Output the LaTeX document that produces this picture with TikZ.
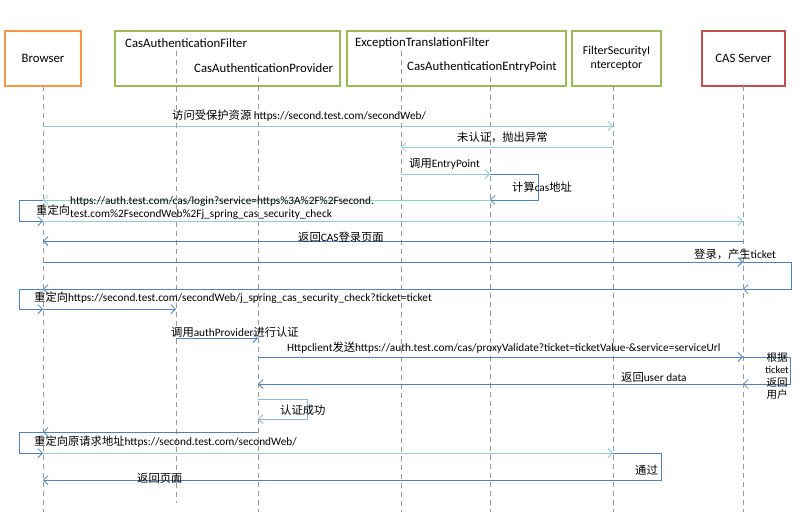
\documentclass[tikz,border=0pt]{standalone}
\usepackage{fontspec}
\setmainfont{Carlito}
\newfontfamily\cjk[Scale=1.0]{Noto Sans CJK SC}
\newcommand\zh[1]{{\cjk #1}}
\usetikzlibrary{arrows.meta}
\definecolor{lb}{HTML}{92CDDC}
\definecolor{db}{HTML}{4F81BD}
\definecolor{mb}{HTML}{95B3D7}
\definecolor{org}{HTML}{F79646}
\definecolor{grn}{HTML}{9BBB59}
\definecolor{rd}{HTML}{C0504D}
\begin{document}
\begin{tikzpicture}[x=1pt,y=-1pt,font=\fontsize{11.3}{13.5}\selectfont,
  lifeline/.style={draw=gray!80,line width=1pt,dash pattern=on 5pt off 4pt},
  actor/.style={line width=1.6pt,fill=white,minimum height=55pt,inner sep=0pt,font=\fontsize{12.8}{14.5}\selectfont},
  hdr/.style={anchor=west,inner sep=0pt,font=\fontsize{12.8}{14.5}\selectfont},
  tip/.style={-{Straight Barb[length=4.5pt,width=9pt]}},
  msgl/.style={draw=lb,line width=0.8pt,tip},
  msgd/.style={draw=db,line width=0.8pt,tip},
  msgm/.style={draw=mb,line width=0.8pt,tip},
  plain/.style={draw=db,line width=0.8pt},
  lbl/.style={anchor=west,inner sep=0pt}]
\useasboundingbox (0,0) rectangle (800,514);
% actor boxes
\node[actor,draw=org,minimum width=76pt] (browser) at (43,58.5) {Browser};
\node[actor,draw=grn,minimum width=225pt] (box1) at (227.5,58.5) {};
\node[actor,draw=grn,minimum width=219pt] (box2) at (456.5,58.5) {};
\node[actor,draw=grn,minimum width=89pt,align=center,font=\fontsize{12}{14}\selectfont] (box3) at (616.5,58.5) {FilterSecurityI\\nterceptor};
\node[actor,draw=rd,minimum width=83pt] (cas) at (743.5,58.5) {CAS Server};
\node[hdr] (t1) at (125,43) {CasAuthenticationFilter};
\node[hdr] (t2) at (194,68) {CasAuthenticationProvider};
\node[hdr] (t3) at (355,43) {ExceptionTranslationFilter};
\node[hdr] (t4) at (407,67) {CasAuthenticationEntryPoint};
% lifeline tops
\coordinate (L1) at (43,86);
\coordinate (L2) at (176,51);
\coordinate (L3) at (258,77);
\coordinate (L4) at (401,51);
\coordinate (L5) at (490,77);
\coordinate (L6) at (613,86);
\coordinate (L7) at (743,86);
\coordinate (bot) at (0,512);
\coordinate (bot2) at (0,503);
\draw[lifeline] (L1) -- (L1 |- bot);
\draw[lifeline] (L2) -- (L2 |- bot2);
\draw[lifeline] (L3) -- (L3 |- bot);
\draw[lifeline] (L4) -- (L4 |- bot);
\draw[lifeline] (L5) -- (L5 |- bot);
\draw[lifeline] (L6) -- (L6 |- bot);
\draw[lifeline] (L7) -- (L7 |- bot);
% message levels
\coordinate (y1) at (0,126);
\coordinate (y2) at (0,147);
\coordinate (y3) at (0,174);
\coordinate (y4) at (0,200);
\coordinate (y5) at (0,221);
\coordinate (y6) at (0,241);
\coordinate (y7) at (0,262);
\coordinate (y8) at (0,289);
\coordinate (y9) at (0,309);
\coordinate (y10) at (0,338);
\coordinate (y11) at (0,357);
\coordinate (y12) at (0,384);
\coordinate (y13) at (0,399);
\coordinate (y14) at (0,419);
\coordinate (y15) at (0,432);
\coordinate (y16) at (0,453);
\coordinate (y17) at (0,480);
% messages
\draw[msgl] (L1 |- y1) -- (L6 |- y1);
\draw[msgl] (L6 |- y2) -- (L4 |- y2);
\draw[msgl] (L4 |- y3) -- (L5 |- y3);
\draw[msgd] (L5 |- y3) -- ++(48,0) |- (L5 |- y4);
\draw[msgl] (L5 |- y4) -- (L1 |- y4);
\draw[msgd] (L1 |- y4) -- ++(-24,0) |- (L1 |- y5);
\draw[msgl] (L1 |- y5) -- (L7 |- y5);
\draw[msgd] (L7 |- y6) -- (L1 |- y6);
\draw[msgd] (L1 |- y7) -- (L7 |- y7);
\draw[msgd] (L7 |- y7) -- ++(48,0) |- (L7 |- y8);
\draw[msgd] (L7 |- y8) -- (L1 |- y8);
\draw[msgd] (L1 |- y8) -- ++(-24,0) |- (L1 |- y9);
\draw[msgd] (L1 |- y9) -- (L2 |- y9);
\draw[msgd] (L2 |- y10) -- (L3 |- y10);
\draw[msgd] (L3 |- y11) -- (L7 |- y11);
\draw[msgd] (L7 |- y11) -- ++(47,0) |- (L7 |- y12);
\draw[msgd] (L7 |- y12) -- (L3 |- y12);
\draw[msgm] (L3 |- y13) -- ++(49,0) |- (L3 |- y14);
\draw[msgd] (L3 |- y15) -- (L1 |- y15);
\draw[msgd] (L1 |- y15) -- ++(-24,0) |- (L1 |- y16);
\draw[msgl] (L1 |- y16) -- (L6 |- y16);
\draw[plain] (L6 |- y16) -- ++(48,0) |- (L6 |- y17);
\draw[msgd] (L6 |- y17) -- (L1 |- y17);
% labels
\node[lbl] (m1) at (172,116) {\zh{访问受保护资源} https://second.test.com/secondWeb/};
\node[lbl] (m2) at (457,137) {\zh{未认证，抛出异常}};
\node[lbl] (m3) at (409,164) {\zh{调用}EntryPoint};
\node[lbl] (m4) at (512,187) {\zh{计算}cas\zh{地址}};
\node[lbl,align=left,font=\fontsize{11.3}{13}\selectfont] (m5) at (70,208.5) {https://auth.test.com/cas/login?service=https\%3A\%2F\%2Fsecond.\\test.com\%2FsecondWeb\%2Fj\_spring\_cas\_security\_check};
\node[lbl] (m6) at (36,210) {\zh{重定向}};
\node[lbl] (m7) at (298,237) {\zh{返回}CAS\zh{登录页面}};
\node[lbl] (m8) at (694,254) {\zh{登录，产生}ticket};
\node[lbl] (m9) at (34,298) {\zh{重定向}https://second.test.com/secondWeb/j\_spring\_cas\_security\_check?ticket=ticket};
\node[lbl] (m10) at (171,332) {\zh{调用}authProvider\zh{进行认证}};
\node[lbl] (m11) at (287,348) {Httpclient\zh{发送}https://auth.test.com/cas/proxyValidate?ticket=ticketValue-\&service=serviceUrl};
\node[inner sep=0pt,align=center,font=\fontsize{10.5}{12.6}\selectfont] (m12) at (777,376) {\zh{根据}\\ticket\\\zh{返回}\\\zh{用户}};
\node[lbl] (m13) at (621,377) {\zh{返回}user data};
\node[lbl] (m14) at (280,410) {\zh{认证成功}};
\node[lbl] (m15) at (34,442) {\zh{重定向原请求地址}https://second.test.com/secondWeb/};
\node[lbl] (m16) at (635,470) {\zh{通过}};
\node[lbl] (m17) at (137,478) {\zh{返回页面}};
\end{tikzpicture}
\end{document}
